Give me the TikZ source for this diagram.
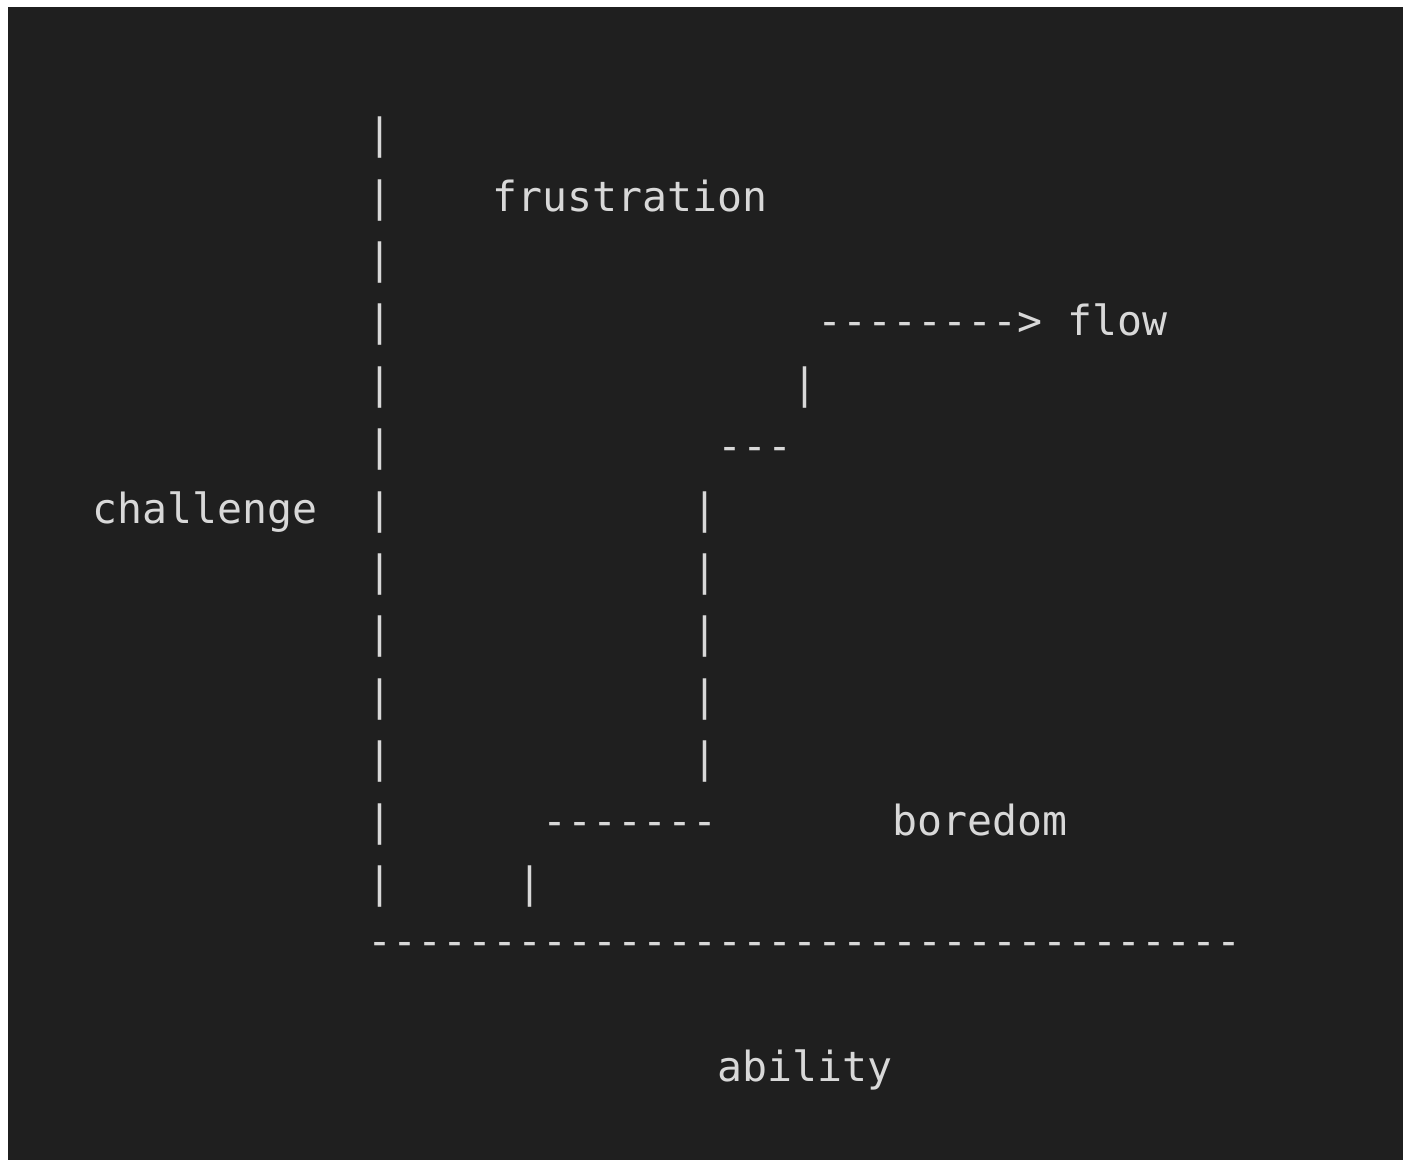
\documentclass[tikz,border=0pt]{standalone}
\usepackage{fontspec}
\setmonofont{DejaVu Sans Mono}
\definecolor{bgdark}{HTML}{1F1F1F}
\definecolor{fgtext}{HTML}{D8D8D8}
\tikzset{
  txt/.style={anchor=base west, inner sep=0pt, outer sep=0pt, text=fgtext,
    font=\ttfamily\fontsize{41.5}{50}\selectfont}
}
\newcommand\asciicell[4]{\node[txt] (#1) at ({17.5+25*#2},{148.6+62.4*#3}) {#4};}
\begin{document}
\begin{tikzpicture}[x=1pt,y=-1pt]
\useasboundingbox (0,0) rectangle (1407,1160);
\fill[white] (0,0) rectangle (1407,1160);
\fill[bgdark] (8,7) rectangle (1403,1160);
% main vertical axis
\foreach \r in {0,...,12} { \asciicell{ybar\r}{14}{\r}{|} }
% labels
\asciicell{frus}{19}{1}{frustration}
\asciicell{arrow}{32}{3}{-------->}
\asciicell{flow}{42}{3}{flow}
\asciicell{bar4}{31}{4}{|}
\asciicell{dash5}{28}{5}{---}
\asciicell{chal}{3}{6}{challenge}
\foreach \r in {6,...,10} { \asciicell{mbar\r}{27}{\r}{|} }
\asciicell{dash11}{21}{11}{-------}
\asciicell{bore}{35}{11}{boredom}
\asciicell{bar12}{20}{12}{|}
\asciicell{xaxis}{14}{12.93}{-----------------------------------}
\asciicell{abil}{28}{14.95}{ability}
\end{tikzpicture}
\end{document}
